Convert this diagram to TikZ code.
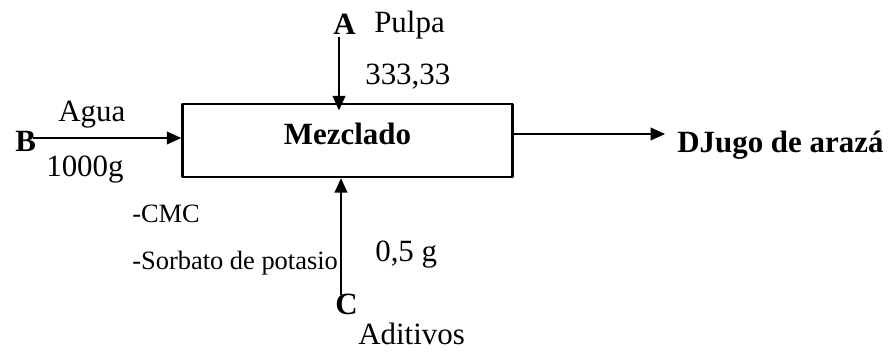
\documentclass[tikz,border=0pt]{standalone}
\usepackage{fontspec}
\setmainfont{Liberation Serif}
\usetikzlibrary{arrows.meta}
\begin{document}
\begin{tikzpicture}[x=0.025cm, y=-0.025cm, line join=round, >={Triangle[length=0.36cm,width=0.32cm]}]
	\tikzset{txt/.style={inner sep=0pt, anchor=base west, font=\fontsize{22}{26}\selectfont},
		chico/.style={txt, font=\fontsize{18.8}{22}\selectfont},
		flecha/.style={->, line width=1pt}}
	\useasboundingbox (0,0) rectangle (896,352);
	% bloque de mezclado
	\node[draw, line width=1.8pt, minimum width=8.25cm, minimum height=1.825cm, inner sep=0pt] (mez) at (347.5,140.5) {};
	\node[txt, anchor=base] (mezl) at (347.5,145) {\bfseries Mezclado};
	% corriente A
	\node[txt] (A) at (333,35) {\bfseries A};
	\node[txt] (pulpa) at (374,33) {Pulpa};
	\node[txt] (masaA) at (365,85) {333,33};
	\coordinate (a0) at (339,37);
	\draw[flecha, shorten >=-0.19cm] (a0) -- (a0 |- mez.north);
	% corriente B
	\node[txt] (B) at (15,152) {\bfseries B};
	\node[txt] (agua) at (58,122) {Agua};
	\node[txt] (masaB) at (46,177) {1000g};
	\coordinate (b0) at (33,138);
	\draw[flecha] (b0) -- (b0 -| mez.west);
	% corriente C
	\node[chico] (cmc) at (132,223) {-CMC};
	\node[chico] (sorb) at (132,270) {-Sorbato de potasio};
	\node[txt] (masaC) at (375,262) {0,5 g};
	\node[txt] (C) at (335,315) {\bfseries C};
	\node[txt] (adit) at (358,345) {Aditivos};
	\coordinate (c0) at (341,295);
	\draw[flecha] (c0) -- (c0 |- mez.south);
	% corriente D
	\coordinate (d1) at (665,134);
	\draw[flecha] (d1 -| mez.east) -- (d1);
	\node[txt] (D) at (677,153) {\bfseries DJugo de arazá};
\end{tikzpicture}
\end{document}
